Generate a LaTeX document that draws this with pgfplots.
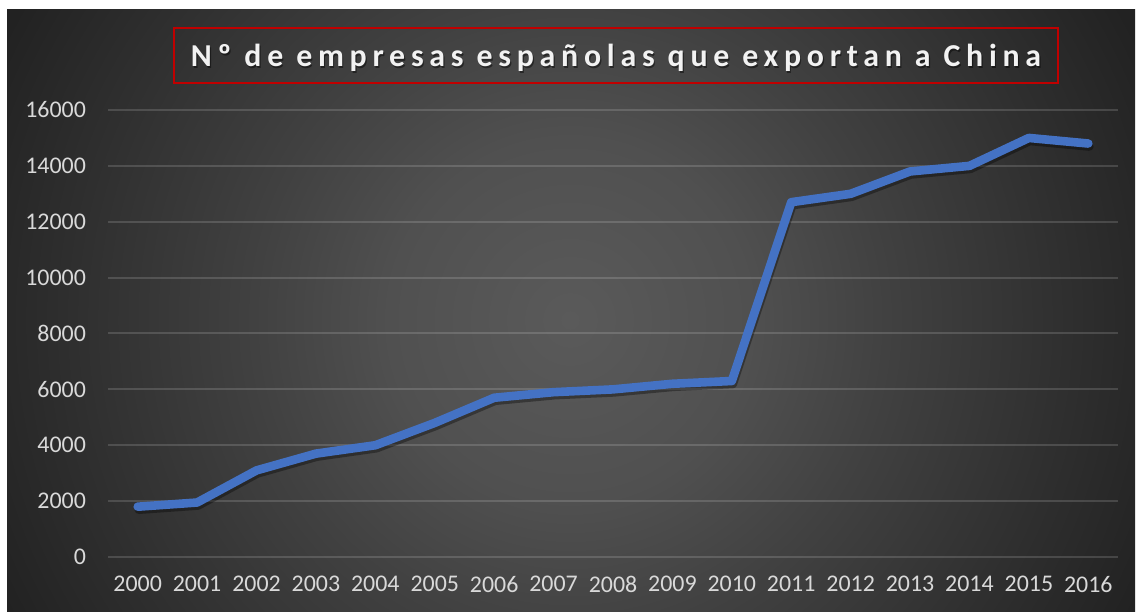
\documentclass[border=0pt]{standalone}
\usepackage{fontspec}
\setmainfont{Carlito}
\usepackage{pgfplots}
\pgfplotsset{compat=1.18}

\definecolor{lineblue}{HTML}{4472C4}
\definecolor{ticktxt}{HTML}{D9D9D9}
\definecolor{titlered}{HTML}{C00000}
\definecolor{bgA}{HTML}{5A5A5A}
\definecolor{bgB}{HTML}{505050}
\definecolor{bgC}{HTML}{414141}
\definecolor{bgD}{HTML}{2F2F2F}
\definecolor{bgE}{HTML}{222222}
\pgfdeclareradialshading{bgshade}{\pgfpoint{0bp}{0bp}}{%
  color(0bp)=(bgA); color(8bp)=(bgB); color(14bp)=(bgC);
  color(22bp)=(bgD); color(28bp)=(bgE); color(50bp)=(bgE)}

\newcommand{\titletext}{Nº de empresas españolas que exportan a China}

\begin{document}
\begin{tikzpicture}
  % page = 1138 x 612 px at 0.5bp per px
  \path[use as bounding box] (0,0) rectangle (569bp,306bp);
  \fill[white] (0,0) rectangle (569bp,306bp);
  \begin{scope}
    \clip (3.5bp,0) rectangle (569bp,301bp);
    \shade[shading=bgshade] (2.5bp,-136.5bp) rectangle (567.5bp,428.5bp);
  \end{scope}

  \begin{axis}[
      at={(54bp,27.5bp)}, anchor=south west,
      scale only axis, width=505bp, height=223.5bp,
      xmin=1999.5, xmax=2016.5, ymin=0, ymax=16000,
      xtick={2000,2001,...,2016}, ytick={0,2000,...,16000},
      scaled y ticks=false,
      axis line style={draw=none}, major tick length=0,
      ymajorgrids, grid style={white, opacity=0.15, line width=1bp},
      tick label style={font=\fontsize{12}{14}\selectfont, text=ticktxt},
      yticklabel style={xshift=-7.5bp},
      xticklabel style={yshift=-6bp},
      /pgf/number format/1000 sep={},
      /pgf/number format/assume math mode=true,
      clip=false,
    ]
    % soft shadow under the line
    \addplot[black, opacity=0.35, line width=4.3bp, line join=round, line cap=round,
             yshift=-1.5bp, xshift=0.5bp]
      coordinates {(2000,1800) (2001,1950) (2002,3100) (2003,3700) (2004,4000)
        (2005,4800) (2006,5700) (2007,5900) (2008,6000) (2009,6200) (2010,6300)
        (2011,12700) (2012,13000) (2013,13800) (2014,14000) (2015,15000) (2016,14800)};
    \addplot[lineblue, line width=4.3bp, line join=round, line cap=round]
      coordinates {(2000,1800) (2001,1950) (2002,3100) (2003,3700) (2004,4000)
        (2005,4800) (2006,5700) (2007,5900) (2008,6000) (2009,6200) (2010,6300)
        (2011,12700) (2012,13000) (2013,13800) (2014,14000) (2015,15000) (2016,14800)};
  \end{axis}

  % title box
  \node[draw=titlered, line width=1bp, minimum width=442bp, minimum height=27.5bp,
        inner sep=0pt] at (308bp,278.25bp) {};
  \node[text=black, opacity=0.45, font=\fontsize{16}{18}\selectfont\bfseries\addfontfeature{LetterSpace=18}]
    at (308.6bp,276.3bp) {\titletext};
  \node[text=white!95!black, font=\fontsize{16}{18}\selectfont\bfseries\addfontfeature{LetterSpace=18}]
    at (308bp,277bp) {\titletext};
\end{tikzpicture}
\end{document}
